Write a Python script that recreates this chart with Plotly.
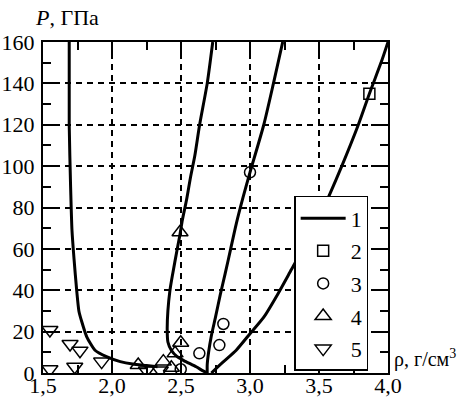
import plotly.graph_objects as go

# Curve 1 (four branches), density rho (g/cm3) vs pressure P (GPa)
c1a_x = [1.69, 1.69, 1.70, 1.71, 1.725, 1.744, 1.76, 1.78, 1.817, 1.877, 1.96, 2.06, 2.15, 2.25, 2.33]
c1a_y = [160, 120, 90, 69, 55, 40, 30, 25, 17.5, 11, 7.9, 5.5, 4.3, 3.6, 3.0]
c1b_x = [2.73, 2.69, 2.635, 2.60, 2.57, 2.54, 2.51, 2.49, 2.47, 2.44, 2.42, 2.405, 2.40, 2.405, 2.43, 2.47, 2.52, 2.61, 2.66, 2.69]
c1b_y = [160, 140, 120, 105, 95, 83.6, 74, 66, 59, 48, 40, 30, 21, 15, 11, 8, 6, 3, 1, 0]
c1c_x = [3.237, 3.17, 3.10, 3.0, 2.95, 2.90, 2.86, 2.82, 2.785, 2.75, 2.72, 2.70, 2.69, 2.69]
c1c_y = [160, 140, 120, 97, 85, 72, 60, 48, 38, 27, 18, 10, 4, 0]
c1d_x = [2.72, 2.80, 2.90, 3.0, 3.1, 3.2, 3.3, 3.4, 3.5, 3.575, 3.665, 3.785, 3.865, 3.955, 4.0]
c1d_y = [0, 5, 11, 19, 27, 38, 50, 62, 75, 86, 100, 120, 135, 151, 160]

# Experimental points
s2_x = [3.865]
s2_y = [135]
s3_x = [3.0, 2.807, 2.778, 2.633, 2.498]
s3_y = [97, 23.7, 13.5, 9.5, 1.8]
s4_x = [2.493, 2.498, 2.457, 2.372, 2.19, 2.43]
s4_y = [68, 14.6, 9.5, 5.5, 3.9, 2.5]
s5_x = [1.55, 1.696, 1.768, 1.925, 1.73, 1.55, 2.25, 2.35]
s5_y = [20.8, 14, 10.8, 5.5, 3, 1.8, 1.2, 1.2]

x_ticks = [1.5, 2.0, 2.5, 3.0, 3.5, 4.0]
x_ticktext = ["1,5", "2,0", "2,5", "3,0", "3,5", "4,0"]
y_ticks = [0, 20, 40, 60, 80, 100, 120, 140, 160]

FONT = "Liberation Serif"
fig = go.Figure()

curves = [(c1a_x, c1a_y), (c1b_x, c1b_y), (c1c_x, c1c_y), (c1d_x, c1d_y)]
for i, (cx, cy) in enumerate(curves):
    fig.add_trace(go.Scatter(x=cx, y=cy, mode="lines", name="1",
                             line=dict(color="black", width=3, shape="spline", smoothing=0.6),
                             legendgroup="g1", showlegend=(i == 0)))

for name, xs, ys, sym, sz in [("2", s2_x, s2_y, "square-open", 11),
                              ("3", s3_x, s3_y, "circle-open", 11),
                              ("4", s4_x, s4_y, "triangle-up-open", 14),
                              ("5", s5_x, s5_y, "triangle-down-open", 14)]:
    fig.add_trace(go.Scatter(x=xs, y=ys, mode="markers", name=name, legendgroup="g" + name,
                             marker=dict(symbol=sym, size=sz, color="black",
                                         line=dict(color="black", width=1.5))))

axis_common = dict(showline=True, linecolor="black", linewidth=2, mirror="allticks",
                   ticks="inside", ticklen=17, tickwidth=2, tickcolor="black",
                   showgrid=True, gridcolor="black", gridwidth=1.5, griddash="6px,5px",
                   zeroline=False, automargin=False,
                   tickfont=dict(family=FONT, size=22, color="black"))

fig.update_xaxes(range=[1.5, 4.0], tickvals=x_ticks, ticktext=x_ticktext, ticklabelstandoff=-8,
                 minor=dict(ticks="inside", ticklen=8, tickwidth=2, tickcolor="black", dtick=0.25, showgrid=False),
                 **axis_common)
fig.update_yaxes(range=[0, 160], tickvals=y_ticks, ticklabelstandoff=2,
                 minor=dict(ticks="inside", ticklen=8, tickwidth=2, tickcolor="black", dtick=10, showgrid=False),
                 **axis_common)

fig.add_annotation(text="<i>P</i>, ГПа", xref="paper", yref="paper", x=-0.03, y=1.0,
                   xanchor="left", yanchor="bottom", yshift=10, showarrow=False,
                   font=dict(family=FONT, size=22, color="black"))
fig.add_annotation(text="ρ, г/см<sup>3</sup>", xref="paper", yref="paper", x=1.0, y=0.045,
                   xanchor="left", yanchor="middle", xshift=4, showarrow=False,
                   font=dict(family=FONT, size=20, color="black"))

fig.update_layout(width=465, height=397, margin=dict(l=43, r=77, t=42, b=24, autoexpand=False),
                  plot_bgcolor="white", paper_bgcolor="white",
                  font=dict(family=FONT, size=22, color="black"),
                  legend=dict(x=0.728, y=0.535, xanchor="left", yanchor="top",
                              bgcolor="white", bordercolor="black", borderwidth=1.5,
                              font=dict(family=FONT, size=22, color="black"),
                              tracegroupgap=1, itemwidth=45))

fig.write_html("out.html")
